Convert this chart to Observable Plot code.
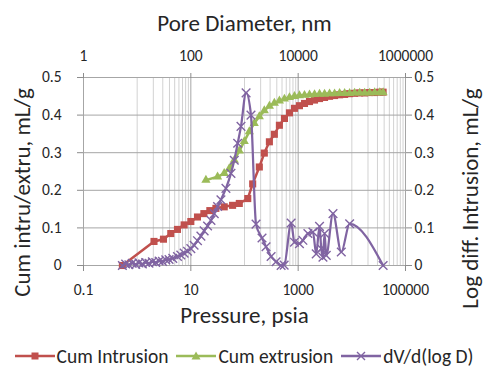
<!DOCTYPE html>
<html>
<head>
<meta charset="utf-8">
<script src="https://cdn.jsdelivr.net/npm/d3@7"></script>
<script src="https://cdn.jsdelivr.net/npm/@observablehq/plot@0.6"></script>
<style>
  html, body { margin: 0; padding: 0; background: #fff; }
  #wrap { width: 484px; font-family: Carlito, Calibri, Lato, sans-serif; color: #262626; }
  #legend { display: flex; justify-content: center; align-items: center; margin-top: 10px; font-size: 19.5px; line-height: 22px; padding-left: 12px; white-space: nowrap; }
  #legend .item { display: flex; align-items: center; margin-right: 8px; flex: none; }
  #legend svg { margin-right: 2px; }
</style>
</head>
<body>
<div id="wrap"><div id="chart"></div><div id="legend"></div></div>
<script>
// ---- tick definitions ----
const majorTicks = [0.1, 10, 1000, 100000];
const bottomLabels = ["0.1", "10", "1000", "100000"];
const topLabels = ["1", "100", "10000", "1000000"];
const minorDecades = [1, 100, 10000];
const minorSteps = [1, 2, 3, 4, 5, 6, 7, 8, 9];
const yTicks = [0, 0.1, 0.2, 0.3, 0.4, 0.5];
const yLabels = ["0", "0.1", "0.2", "0.3", "0.4", "0.5"];

// ---- series (pressure in psia, values in mL/g) ----
const seriesNames = ["Cum Intrusion", "Cum extrusion", "dV/d(log D)"];

const intrP = [0.53, 2.06, 3.09, 4.23, 5.64, 7.5, 10, 13.3, 17.5, 22.6, 29.3, 41.9, 60, 80, 115, 142, 189, 234, 291, 360, 447, 555, 688, 853, 1057, 1312, 1626, 2017, 2500, 3103, 3846, 4771, 5915, 7340, 9100, 11280, 14000, 17330, 21500, 26670, 33100, 38300];
const intrV = [0, 0.064, 0.07, 0.085, 0.096, 0.108, 0.117, 0.129, 0.138, 0.146, 0.152, 0.156, 0.160, 0.165, 0.178, 0.217, 0.262, 0.299, 0.329, 0.349, 0.373, 0.391, 0.406, 0.418, 0.425, 0.431, 0.436, 0.440, 0.444, 0.447, 0.450, 0.452, 0.454, 0.455, 0.457, 0.458, 0.459, 0.459, 0.460, 0.460, 0.461, 0.461];

const extrP = [19.1, 31.5, 41.9, 52, 64.5, 80, 99, 123, 152, 189, 234, 291, 360, 447, 555, 688, 853, 1057, 1312, 1626, 2017, 2500, 3103, 3846, 4771, 5915, 7340, 9100, 11280, 14000, 17330, 21500, 26670, 33100, 38300];
const extrV = [0.227, 0.236, 0.245, 0.258, 0.28, 0.305, 0.33, 0.356, 0.378, 0.396, 0.412, 0.424, 0.432, 0.438, 0.443, 0.447, 0.450, 0.452, 0.453, 0.454, 0.455, 0.456, 0.456, 0.457, 0.457, 0.458, 0.458, 0.458, 0.459, 0.459, 0.459, 0.459, 0.46, 0.46, 0.46];

const dvP = [0.53, 0.61, 0.70, 0.81, 0.94, 1.08, 1.25, 1.44, 1.66, 1.92, 2.22, 2.56, 2.96, 3.41, 3.93, 4.61, 5.64, 6.5, 7.5, 8.67, 10, 11.5, 13.3, 15.4, 17.7, 20.5, 23.7, 27.3, 31.5, 36.4, 45.1, 55.9, 64.5, 74.6, 86, 107, 132, 164, 212, 252, 313, 388, 481, 548, 740, 853, 1057, 1224, 1517, 1883, 2169, 2500, 2692, 2897, 3103, 3338, 4457, 6363, 9100, 38300];
const dvV = [0, 0.004, 0.002, 0.006, 0.003, 0.007, 0.004, 0.008, 0.006, 0.010, 0.008, 0.012, 0.011, 0.015, 0.016, 0.019, 0.024, 0.028, 0.033, 0.038, 0.045, 0.054, 0.066, 0.078, 0.092, 0.105, 0.12, 0.138, 0.157, 0.175, 0.205, 0.245, 0.28, 0.325, 0.37, 0.459, 0.40, 0.11, 0.073, 0.05, 0.024, 0.01, 0.0, 0.001, 0.113, 0.062, 0.058, 0.067, 0.085, 0.089, 0.031, 0.104, 0.045, 0.022, 0.085, 0.027, 0.138, 0.036, 0.111, 0];

const colors = ["#C0504D", "#9BBB59", "#8064A2"];

const toRows = (P, V) => P.map((p, i) => ({p, v: V[i]}));
const intr = toRows(intrP, intrV);
const extr = toRows(extrP, extrV);
const dv = toRows(dvP, dvV);
const minorGrid = minorDecades.flatMap(d => minorSteps.map(s => d * s));

const font = "Carlito, Calibri, Lato, sans-serif";
const axisCommon = {stroke: "#8c8c8c", fill: "#262626", label: null, tickSize: 6, fontSize: 15.5};
const titleStyle = {fontSize: 23, fill: "#262626", textAnchor: "middle"};

const chart = Plot.plot({
  width: 484,
  height: 335,
  marginLeft: 83,
  marginRight: 79,
  marginTop: 77,
  marginBottom: 70,
  style: {fontFamily: font, fontSize: "15.5px", color: "#262626", background: "#fff", overflow: "visible"},
  x: {type: "log", domain: [0.1, 100000]},
  y: {domain: [0, 0.5]},
  marks: [
    Plot.ruleX(minorGrid, {stroke: "#d2d2d2", strokeWidth: 1}),
    Plot.ruleX(majorTicks, {stroke: "#a6a6a6", strokeWidth: 1}),
    Plot.ruleY(yTicks, {stroke: "#a6a6a6", strokeWidth: 1}),
    Plot.axisX(majorTicks, {...axisCommon, anchor: "bottom", tickPadding: 12, tickFormat: d => bottomLabels[majorTicks.indexOf(d)]}),
    Plot.axisX(majorTicks, {...axisCommon, anchor: "top", tickSize: 5, tickPadding: 12, tickFormat: d => topLabels[majorTicks.indexOf(d)]}),
    Plot.axisY(yTicks, {...axisCommon, anchor: "left", tickPadding: 16, tickFormat: d => yLabels[yTicks.indexOf(d)]}),
    Plot.axisY(yTicks, {...axisCommon, anchor: "right", tickPadding: 3, tickFormat: d => yLabels[yTicks.indexOf(d)]}),
    Plot.line(intr, {x: "p", y: "v", stroke: colors[0], strokeWidth: 2.5}),
    Plot.dot(intr, {x: "p", y: "v", symbol: "square", fill: colors[0], r: 4}),
    Plot.line(extr, {x: "p", y: "v", stroke: colors[1], strokeWidth: 2.5}),
    Plot.dot(extr, {x: "p", y: "v", symbol: "triangle", fill: colors[1], r: 3.4}),
    Plot.line(dv, {x: "p", y: "v", stroke: colors[2], strokeWidth: 2.25, curve: "monotone-x"}),
    Plot.dot(dv, {x: "p", y: "v", symbol: "times", stroke: colors[2], strokeWidth: 1.4, r: 4}),
    Plot.text(["Pore Diameter, nm"], {...titleStyle, frameAnchor: "top", dy: -47, lineAnchor: "bottom"}),
    Plot.text(["Pressure, psia"], {...titleStyle, frameAnchor: "bottom", dy: 57, lineAnchor: "bottom"}),
    Plot.text(["Cum intru/extru, mL/g"], {...titleStyle, frameAnchor: "left", dx: -61, dy: 21, rotate: -90, lineAnchor: "middle"}),
    Plot.text(["Log diff. Intrusion, mL/g"], {...titleStyle, frameAnchor: "right", dx: 65, dy: 27, rotate: -90, lineAnchor: "middle"})
  ]
});
document.getElementById("chart").appendChild(chart);

// ---- legend ----
const legend = document.getElementById("legend");
const symbols = [
  `<rect x="16.5" y="3.5" width="7" height="7" fill="${colors[0]}"/>`,
  `<path d="M20,2.5 L24.5,10.5 L15.5,10.5 Z" fill="${colors[1]}"/>`,
  `<path d="M16,3 L24,11 M24,3 L16,11" stroke="${colors[2]}" stroke-width="1.4"/>`
];
seriesNames.forEach((name, i) => {
  const item = document.createElement("div");
  item.className = "item";
  item.innerHTML = `<svg width="40" height="14"><line x1="0" x2="40" y1="7" y2="7" stroke="${colors[i]}" stroke-width="2.5"/>${symbols[i]}</svg><span>${name}</span>`;
  legend.appendChild(item);
});
</script>
</body>
</html>
